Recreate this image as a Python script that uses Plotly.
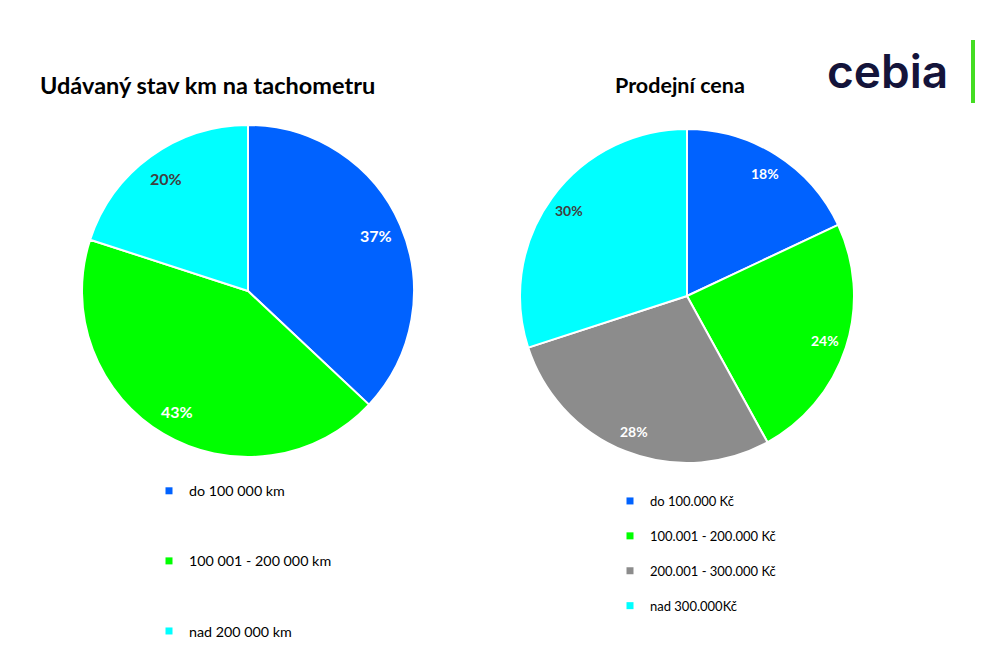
import math
import plotly.graph_objects as go

# Data
km_labels = ["do 100 000 km", "100 001 - 200 000 km", "nad 200 000 km"]
km_values = [37, 43, 20]
price_labels = ["do 100.000 Kč", "100.001 - 200.000 Kč", "200.001 - 300.000 Kč", "nad 300.000Kč"]
price_values = [18, 24, 28, 30]

BLUE = "#0062FF"
GREEN = "#00FF00"
GRAY = "#8C8C8C"
CYAN = "#00FFFF"
km_colors = [BLUE, GREEN, CYAN]
price_colors = [BLUE, GREEN, GRAY, CYAN]
km_textcolors = ["white", "white", "#404040"]
price_textcolors = ["white", "white", "white", "#404040"]

FONT = "Lato"
W, H = 1002, 668

# pie geometry (pixels): center x, center y (from top), radius
left_geo = (248, 291, 166)
right_geo = (687, 296, 167)


def domain(geo):
    cx, cy, r = geo
    return dict(x=[(cx - r) / W, (cx + r) / W], y=[1 - (cy + r) / H, 1 - (cy - r) / H])


def label_annotations(values, textcolors, geo, size, frac=0.84):
    cx, cy, r = geo
    total = sum(values)
    out = []
    cum = 0
    for v, c in zip(values, textcolors):
        theta = 2 * math.pi * (cum + v / 2) / total
        cum += v
        px = cx + frac * r * math.sin(theta)
        py = cy - frac * r * math.cos(theta)
        out.append(dict(text=f"<b>{v}%</b>", x=px / W, y=1 - py / H, xref="paper", yref="paper",
                        xanchor="center", yanchor="middle", showarrow=False,
                        font=dict(family=FONT, size=size, color=c)))
    return out


fig = go.Figure()

fig.add_trace(go.Pie(
    labels=km_labels, values=km_values, sort=False, direction="clockwise", rotation=0,
    marker=dict(colors=km_colors, line=dict(color="white", width=2)),
    textinfo="none", domain=domain(left_geo),
    showlegend=False, hoverinfo="label+percent",
))
fig.add_trace(go.Pie(
    labels=price_labels, values=price_values, sort=False, direction="clockwise", rotation=0,
    marker=dict(colors=price_colors, line=dict(color="white", width=2)),
    textinfo="none", domain=domain(right_geo),
    showlegend=False, hoverinfo="label+percent",
))

# Legend entries via invisible scatter traces
for i, (lab, col) in enumerate(zip(km_labels, km_colors)):
    fig.add_trace(go.Scatter(
        x=[None], y=[None], mode="markers", name=lab,
        marker=dict(symbol="square", size=7, color=col),
        legend="legend", legendgroup=f"km{i}", showlegend=True,
    ))
for i, (lab, col) in enumerate(zip(price_labels, price_colors)):
    fig.add_trace(go.Scatter(
        x=[None], y=[None], mode="markers", name=lab,
        marker=dict(symbol="square", size=7, color=col),
        legend="legend2", legendgroup=f"pr{i}", showlegend=True,
    ))

annotations = [
    dict(text="<b>Udávaný stav km na tachometru</b>", x=38 / W, y=1 - 85 / H,
         xref="paper", yref="paper", xanchor="left", yanchor="middle", showarrow=False,
         font=dict(family=FONT, size=23.5, color="#000000")),
    dict(text="<b>Prodejní cena</b>", x=680 / W, y=1 - 85 / H,
         xref="paper", yref="paper", xanchor="center", yanchor="middle", showarrow=False,
         font=dict(family=FONT, size=21.5, color="#000000")),
    dict(text="cebia", x=887 / W, y=1 - 71 / H,
         xref="paper", yref="paper", xanchor="center", yanchor="middle", showarrow=False,
         font=dict(family="Inter", size=46, color="#14143A", weight=600)),
]
annotations += label_annotations(km_values, km_textcolors, left_geo, 16)
annotations += label_annotations(price_values, price_textcolors, right_geo, 14, frac=0.87)

fig.update_layout(
    width=W, height=H,
    margin=dict(l=0, r=0, t=0, b=0),
    paper_bgcolor="white", plot_bgcolor="white",
    font=dict(family=FONT, color="#000000"),
    xaxis=dict(visible=False), yaxis=dict(visible=False),
    legend=dict(
        x=149 / W, y=1 - 475 / H, xanchor="left", yanchor="top",
        font=dict(family=FONT, size=14.3, color="#000000"),
        traceorder="grouped", tracegroupgap=48.5, bgcolor="rgba(0,0,0,0)",
    ),
    legend2=dict(
        x=610 / W, y=1 - 486 / H, xanchor="left", yanchor="top",
        font=dict(family=FONT, size=13, color="#000000"),
        traceorder="grouped", tracegroupgap=15, bgcolor="rgba(0,0,0,0)",
    ),
    annotations=annotations,
    shapes=[
        dict(type="rect", xref="paper", yref="paper", x0=971 / W, x1=975 / W,
             y0=1 - 103 / H, y1=1 - 40 / H, fillcolor="#44DD22", line=dict(width=0)),
    ],
)

fig.write_html("out.html")
